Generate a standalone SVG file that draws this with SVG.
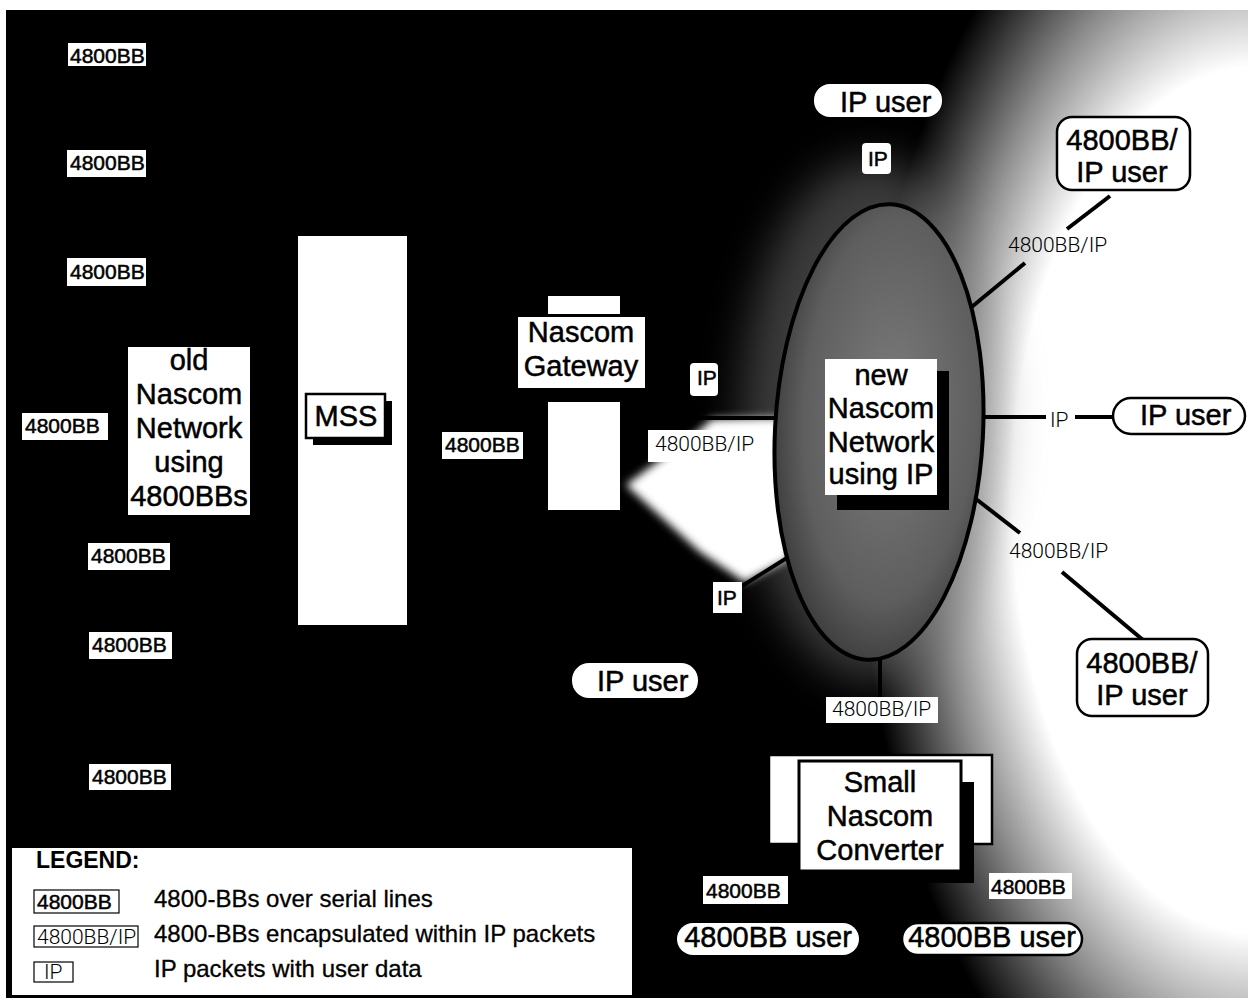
<svg xmlns="http://www.w3.org/2000/svg" width="1252" height="1005" viewBox="0 0 1252 1005">
<style>
text{font-family:"Liberation Sans",Arial,sans-serif;fill:#000}
.lbl{font-size:21px;stroke:#000;stroke-width:0.5}
.lt{font-size:21px;font-family:"Roboto","Liberation Sans",sans-serif;font-weight:300}
.big{font-size:29px;stroke:#000;stroke-width:0.5}
.leg{font-size:24px;stroke:#000;stroke-width:0.3}
.box{fill:#fff}
.bord{fill:#fff;stroke:#000;stroke-width:2.5}
.thin{fill:#fff;stroke:#000;stroke-width:1.2}
.conn{stroke:#000;stroke-width:4;fill:none;stroke-linecap:butt}
</style>
<defs>
<radialGradient id="fade">
<stop offset="0" stop-color="#fff" stop-opacity="1"/>
<stop offset="0.62" stop-color="#fff" stop-opacity="1"/>
<stop offset="0.8" stop-color="#fff" stop-opacity="0.55"/>
<stop offset="1" stop-color="#fff" stop-opacity="0"/>
</radialGradient>
<radialGradient id="ellfill" cx="0.55" cy="0.45" r="0.6">
<stop offset="0" stop-color="#7c7c7c"/>
<stop offset="0.7" stop-color="#5e5e5e"/>
<stop offset="1" stop-color="#383838"/>
</radialGradient>
<filter id="blur" x="-30%" y="-30%" width="160%" height="160%"><feGaussianBlur stdDeviation="4"/></filter>
<filter id="blur2" x="-50%" y="-50%" width="200%" height="200%"><feGaussianBlur stdDeviation="22"/></filter>
<clipPath id="area"><rect x="6" y="10" width="1242" height="988"/></clipPath>
</defs>
<rect width="1252" height="1005" fill="#fff"/>
<g id="background" clip-path="url(#area)">
<rect x="6" y="10" width="1242" height="988" fill="#000"/>
<ellipse cx="1260" cy="500" rx="400" ry="700" fill="url(#fade)"/>
<ellipse cx="872" cy="420" rx="130" ry="260" fill="#777" opacity="0.5" filter="url(#blur2)"/>
<polygon points="626,485 700,430 712,419 780,418 790,558 745,582 700,552" fill="#fff" filter="url(#blur)"/>
</g>
<g id="connectors">
<line class="conn" x1="690" y1="418" x2="780" y2="418"/>
<line class="conn" x1="742" y1="586" x2="790" y2="556"/>
<line class="conn" x1="1110" y1="196" x2="1067" y2="229"/>
<line class="conn" x1="1025" y1="263" x2="968" y2="310"/>
<line class="conn" x1="982" y1="417" x2="1046" y2="417"/>
<line class="conn" x1="1075" y1="417" x2="1114" y2="417"/>
<line class="conn" x1="976" y1="499" x2="1020" y2="533"/>
<line class="conn" x1="1062" y1="572" x2="1143" y2="640"/>
<line class="conn" x1="880" y1="655" x2="880" y2="697"/>
</g>
<g id="new-network">
<ellipse cx="879" cy="432" rx="104" ry="228" transform="rotate(3 879 432)" fill="url(#ellfill)" stroke="#000" stroke-width="4"/>
<rect x="837" y="371" width="112" height="139" fill="#000"/>
<rect x="825" y="359" width="112" height="136" class="box"/>
<text x="881" y="385" class="big" text-anchor="middle">new</text>
<text x="881" y="418" class="big" text-anchor="middle">Nascom</text>
<text x="881" y="452" class="big" text-anchor="middle">Network</text>
<text x="881" y="484" class="big" text-anchor="middle">using IP</text>
</g>
<g id="old-network">
<rect x="128" y="347" width="122" height="168" class="box"/>
<text x="189" y="370" class="big" text-anchor="middle">old</text>
<text x="189" y="404" class="big" text-anchor="middle">Nascom</text>
<text x="189" y="438" class="big" text-anchor="middle">Network</text>
<text x="189" y="472" class="big" text-anchor="middle">using</text>
<text x="189" y="506" class="big" text-anchor="middle">4800BBs</text>
</g>
<g id="mss">
<rect x="298" y="236" width="109" height="389" class="box"/>
<rect x="313" y="401" width="79" height="44" fill="#000"/>
<rect x="306" y="394" width="79" height="44" class="bord"/>
<text x="346" y="426" class="big" text-anchor="middle">MSS</text>
</g>
<g id="gateway">
<rect x="548" y="296" width="72" height="18" class="box"/>
<rect x="518" y="317" width="127" height="71" class="box"/>
<text x="581" y="342" class="big" text-anchor="middle">Nascom</text>
<text x="581" y="376" class="big" text-anchor="middle">Gateway</text>
<rect x="548" y="402" width="72" height="108" class="box"/>
</g>
<g id="old-labels">
<rect x="68" y="43" width="78" height="23" class="box"/><text x="70" y="63" class="lbl">4800BB</text>
<rect x="67" y="150" width="79" height="27" class="box"/><text x="70" y="170" class="lbl">4800BB</text>
<rect x="67" y="258" width="79" height="28" class="box"/><text x="70" y="279" class="lbl">4800BB</text>
<rect x="22" y="413" width="86" height="27" class="box"/><text x="25" y="433" class="lbl">4800BB</text>
<rect x="88" y="543" width="82" height="27" class="box"/><text x="91" y="563" class="lbl">4800BB</text>
<rect x="89" y="632" width="83" height="27" class="box"/><text x="92" y="652" class="lbl">4800BB</text>
<rect x="89" y="764" width="82" height="26" class="box"/><text x="92" y="784" class="lbl">4800BB</text>
</g>
<g id="gateway-labels">
<rect x="442" y="432" width="81" height="27" class="box"/><text x="445" y="452" class="lbl">4800BB</text>
<rect x="690" y="363" width="28" height="33" rx="4" class="box"/><text x="697" y="385" class="lbl">IP</text>
<rect x="648" y="430" width="114" height="32" class="box"/><text x="655" y="451" class="lt">4800BB/IP</text>
<rect x="713" y="582" width="29" height="31" class="box"/><text x="717" y="605" class="lbl">IP</text>
</g>
<g id="ip-user-top">
<rect x="814" y="84" width="128" height="33" rx="16" class="box"/>
<text x="840" y="112" class="big">IP user</text>
<rect x="862" y="143" width="29" height="31" rx="4" class="box"/><text x="868" y="166" class="lbl">IP</text>
</g>
<g id="bbip-user-top">
<rect x="1057" y="117" width="133" height="73" rx="15" class="bord"/>
<text x="1122" y="150" class="big" text-anchor="middle">4800BB/</text>
<text x="1122" y="182" class="big" text-anchor="middle">IP user</text>
<text x="1008" y="252" class="lt">4800BB/IP</text>
</g>
<g id="ip-user-right">
<text x="1050" y="427" class="lt" font-size="19">IP</text>
<rect x="1113" y="398" width="132" height="36" rx="18" class="bord"/>
<text x="1140" y="425" class="big">IP user</text>
</g>
<g id="bbip-user-bottom">
<text x="1009" y="558" class="lt">4800BB/IP</text>
<rect x="1077" y="639" width="131" height="77" rx="15" class="bord"/>
<text x="1142" y="673" class="big" text-anchor="middle">4800BB/</text>
<text x="1142" y="705" class="big" text-anchor="middle">IP user</text>
</g>
<g id="ip-user-bottom">
<rect x="572" y="663" width="126" height="35" rx="17" class="box"/>
<text x="597" y="691" class="big">IP user</text>
</g>
<g id="converter">
<rect x="826" y="697" width="112" height="26" class="box"/><text x="832" y="716" class="lt">4800BB/IP</text>
<rect x="769" y="755" width="223" height="89" class="bord"/>
<rect x="811" y="782" width="163" height="101" fill="#000"/>
<rect x="799" y="761" width="162" height="110" fill="#fff" stroke="#000" stroke-width="3"/>
<text x="880" y="792" class="big" text-anchor="middle">Small</text>
<text x="880" y="826" class="big" text-anchor="middle">Nascom</text>
<text x="880" y="860" class="big" text-anchor="middle">Converter</text>
<rect x="703" y="876" width="85" height="28" class="box"/><text x="706" y="898" class="lbl">4800BB</text>
<rect x="989" y="873" width="83" height="26" class="box"/><text x="991" y="894" class="lbl">4800BB</text>
</g>
<g id="bb-users">
<rect x="677" y="923" width="182" height="32" rx="16" class="box"/>
<text x="768" y="947" class="big" text-anchor="middle" font-size="30">4800BB user</text>
<rect x="902" y="923" width="180" height="32" rx="16" class="bord"/>
<text x="992" y="947" class="big" text-anchor="middle" font-size="30">4800BB user</text>
</g>
<g id="legend">
<rect x="12" y="848" width="620" height="147" class="box"/>
<text x="36" y="868" font-size="23" font-weight="bold">LEGEND:</text>
<rect x="34" y="890" width="85" height="23" class="thin"/><text x="37" y="909" class="lbl">4800BB</text>
<text x="154" y="907" class="leg">4800-BBs over serial lines</text>
<rect x="34" y="926" width="104" height="21" class="thin"/><text x="37" y="944" class="lt" font-size="19">4800BB/IP</text>
<text x="154" y="942" class="leg">4800-BBs encapsulated within IP packets</text>
<rect x="34" y="962" width="39" height="20" class="thin"/><text x="44" y="979" class="lt" font-size="19">IP</text>
<text x="154" y="977" class="leg">IP packets with user data</text>
</g>
</svg>
